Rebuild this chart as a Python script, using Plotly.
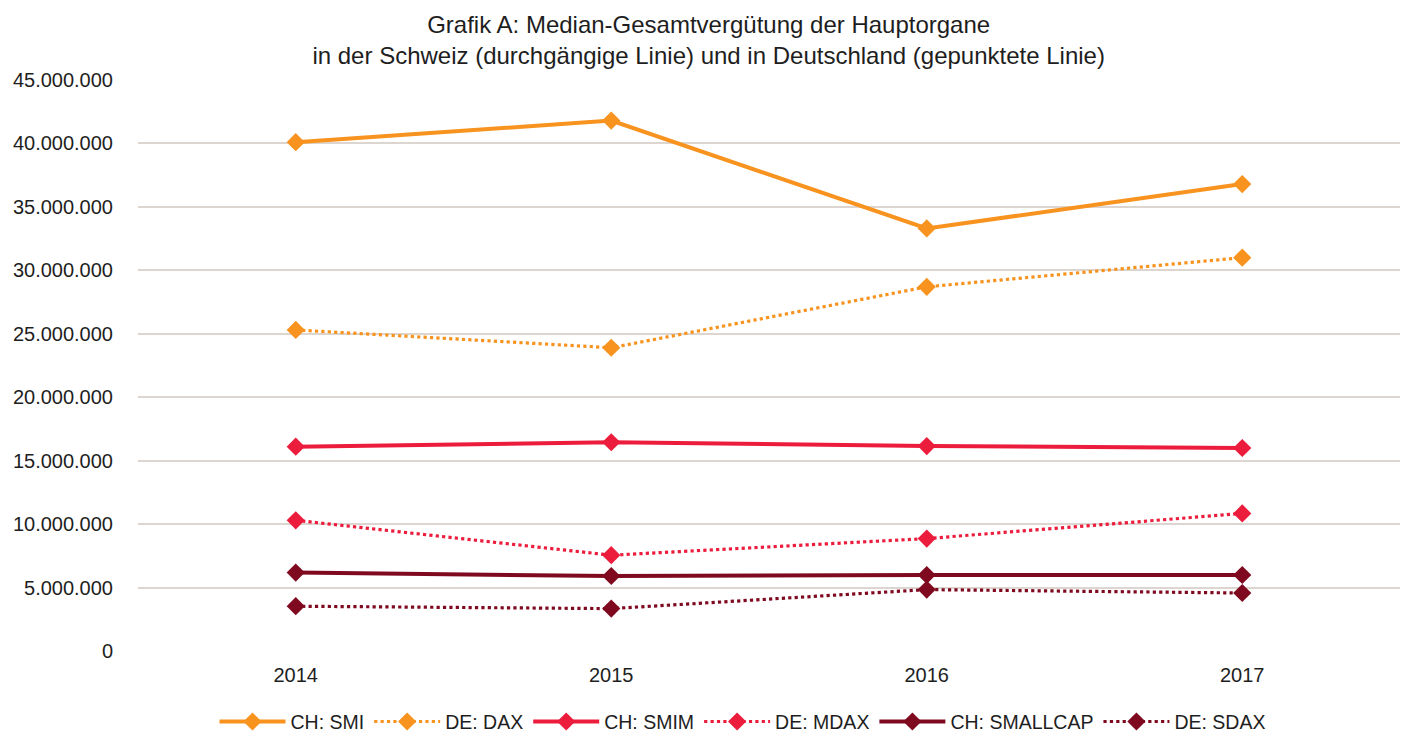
import plotly.graph_objects as go

years = ["2014", "2015", "2016", "2017"]
smi = [40.1e6, 41.8e6, 33.3e6, 36.8e6]
dax = [25.3e6, 23.9e6, 28.7e6, 31.0e6]
smim = [16.1e6, 16.45e6, 16.15e6, 16.0e6]
mdax = [10.3e6, 7.55e6, 8.86e6, 10.84e6]
smallcap = [6.18e6, 5.91e6, 5.99e6, 5.99e6]
sdax = [3.53e6, 3.34e6, 4.84e6, 4.57e6]
tickvals = [0, 5e6, 10e6, 15e6, 20e6, 25e6, 30e6, 35e6, 40e6, 45e6]
ticktext = ["0", "5.000.000", "10.000.000", "15.000.000", "20.000.000", "25.000.000",
            "30.000.000", "35.000.000", "40.000.000", "45.000.000"]

ORANGE = "#F7931E"
RED = "#EC1C3C"
DARK = "#7F0A20"
FONT = "Liberation Sans, Arial, sans-serif"
TXT = "#1E1E1E"

series = [
    ("CH: SMI", smi, ORANGE, "solid"),
    ("DE: DAX", dax, ORANGE, "dot"),
    ("CH: SMIM", smim, RED, "solid"),
    ("DE: MDAX", mdax, RED, "dot"),
    ("CH: SMALLCAP", smallcap, DARK, "solid"),
    ("DE: SDAX", sdax, DARK, "dot"),
]

fig = go.Figure()
for name, vals, color, dash in series:
    fig.add_trace(go.Scatter(
        x=years, y=vals, name=name, mode="lines+markers",
        line=dict(color=color, width=4 if dash == "solid" else 3.2, dash=dash),
        marker=dict(symbol="diamond", size=14, color=color),
    ))

fig.update_layout(
    width=1407, height=730,
    paper_bgcolor="white", plot_bgcolor="white",
    margin=dict(l=130, r=15, t=72, b=87, autoexpand=False),
    font=dict(family=FONT, size=20, color=TXT),
    title=dict(
        text="Grafik A: Median-Gesamtvergütung der Hauptorgane<br>in der Schweiz (durchgängige Linie) und in Deutschland (gepunktete Linie)",
        x=0.498, xanchor="center", xref="container",
        y=0.966, yanchor="middle", yref="container",
        font=dict(family=FONT, size=24, color=TXT),
    ),
    showlegend=True,
    legend=dict(orientation="h", x=0.479, xanchor="center", y=-0.124, yanchor="middle",
                font=dict(family=FONT, size=19.5, color=TXT),
                itemwidth=66, tracegroupgap=0),
    xaxis=dict(type="category", range=[-0.5, 3.5], showgrid=False, showline=False,
               ticks="", tickfont=dict(size=20), zeroline=False, automargin=False,
               ticklabelstandoff=10),
    yaxis=dict(range=[0, 45e6], tickvals=tickvals, ticktext=ticktext,
               showgrid=True, gridcolor="#DDD6D0", gridwidth=1.5, zeroline=False,
               showline=False, ticks="", automargin=False, ticklabelstandoff=24,
               tickfont=dict(size=20)),
)

fig.write_html("out.html")
